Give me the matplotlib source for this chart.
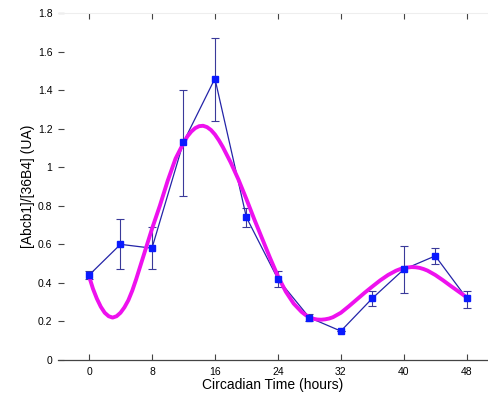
import matplotlib
matplotlib.use("Agg")
import matplotlib.pyplot as plt
import numpy as np

plt.rcParams['font.family'] = ['Liberation Sans', 'DejaVu Sans']

# Measured data (mean ± error)
ct = [0, 4, 8, 12, 16, 20, 24, 28, 32, 36, 40, 44, 48]
expr = [0.44, 0.60, 0.58, 1.13, 1.46, 0.74, 0.42, 0.22, 0.15, 0.32, 0.47, 0.54, 0.32]
err_low = [0.02, 0.13, 0.11, 0.28, 0.22, 0.05, 0.04, 0.02, 0.0, 0.04, 0.12, 0.04, 0.05]
err_high = [0.02, 0.13, 0.11, 0.27, 0.21, 0.05, 0.04, 0.02, 0.0, 0.04, 0.12, 0.04, 0.04]

# Fitted curve
fit_t = [0, 0.5, 1, 1.5, 2, 2.5, 3, 3.5, 4, 4.5, 5, 5.5, 6, 7, 8, 9, 10, 11, 12,
         12.5, 13, 13.5, 14, 14.5, 15, 15.5, 16, 16.5, 17, 18, 19, 20,
         21, 22, 23, 24, 25, 26, 27, 27.5, 28, 28.5, 29, 29.5, 30, 30.5, 31, 32,
         33, 34, 35, 36, 37, 38, 39, 39.5, 40, 40.5, 41, 41.5, 42, 42.5, 43, 44,
         45, 46, 47, 48]
fit_v = [0.435, 0.37, 0.318, 0.276, 0.245, 0.227, 0.22, 0.227, 0.245, 0.273, 0.31,
         0.36, 0.42, 0.55, 0.68, 0.80, 0.93, 1.045, 1.125,
         1.16, 1.185, 1.203, 1.213, 1.215, 1.208, 1.193, 1.17, 1.14, 1.105, 1.025,
         0.935, 0.835, 0.73, 0.63, 0.53, 0.435, 0.355, 0.293, 0.25, 0.234, 0.222,
         0.214, 0.21, 0.209, 0.211, 0.215, 0.222, 0.245, 0.278, 0.313, 0.348, 0.381,
         0.413, 0.441, 0.463, 0.471, 0.477, 0.48, 0.482, 0.481, 0.478, 0.472, 0.464,
         0.441, 0.413, 0.383, 0.354, 0.325]

xticks = [0, 8, 16, 24, 32, 40, 48]
yticks = [0, 0.2, 0.4, 0.6, 0.8, 1.0, 1.2, 1.4, 1.6, 1.8]
ytick_labels = ["0", "0.2", "0.4", "0.6", "0.8", "1", "1.2", "1.4", "1.6", "1.8"]

fig = plt.figure(figsize=(4.88, 3.93), dpi=100)
ax = fig.add_axes([58/488, 33/393, 430/488, 347/393])

ax.errorbar(ct, expr, yerr=[err_low, err_high], fmt='none', ecolor='#3a3a9a',
            elinewidth=0.8, capsize=3, capthick=0.8, zorder=2)
ax.plot(ct, expr, '-', color='#2424a8', lw=0.9, zorder=2)
ax.plot(fit_t, fit_v, '-', color='#ee11ee', lw=2.8, solid_capstyle='round',
        solid_joinstyle='round', zorder=3)
ax.plot(ct, expr, 's', color='#0a1aff', ms=4.5, mec='#0a1aff', zorder=4)

ax.set_xlim(-3.94, 50.7)
ax.set_ylim(0, 1.8)
ax.set_xticks(xticks)
ax.set_yticks(yticks)
ax.set_yticklabels(ytick_labels)
ax.tick_params(axis='both', direction='in', length=4, width=0.8, color='#444444',
               labelsize=7.5, top=True, pad=4)
ax.tick_params(axis='x', pad=5)

ax.spines['left'].set_visible(False)
ax.spines['right'].set_visible(False)
ax.spines['top'].set_color('#eeeeee')
ax.spines['top'].set_linewidth(0.8)
ax.spines['bottom'].set_color('#444444')
ax.spines['bottom'].set_linewidth(0.9)

ax.set_xlabel('Circadian Time (hours)', fontsize=10, labelpad=1)
ax.set_ylabel('[Abcb1]/[36B4] (UA)', fontsize=10, labelpad=2)

fig.savefig('out.png', dpi=100)
